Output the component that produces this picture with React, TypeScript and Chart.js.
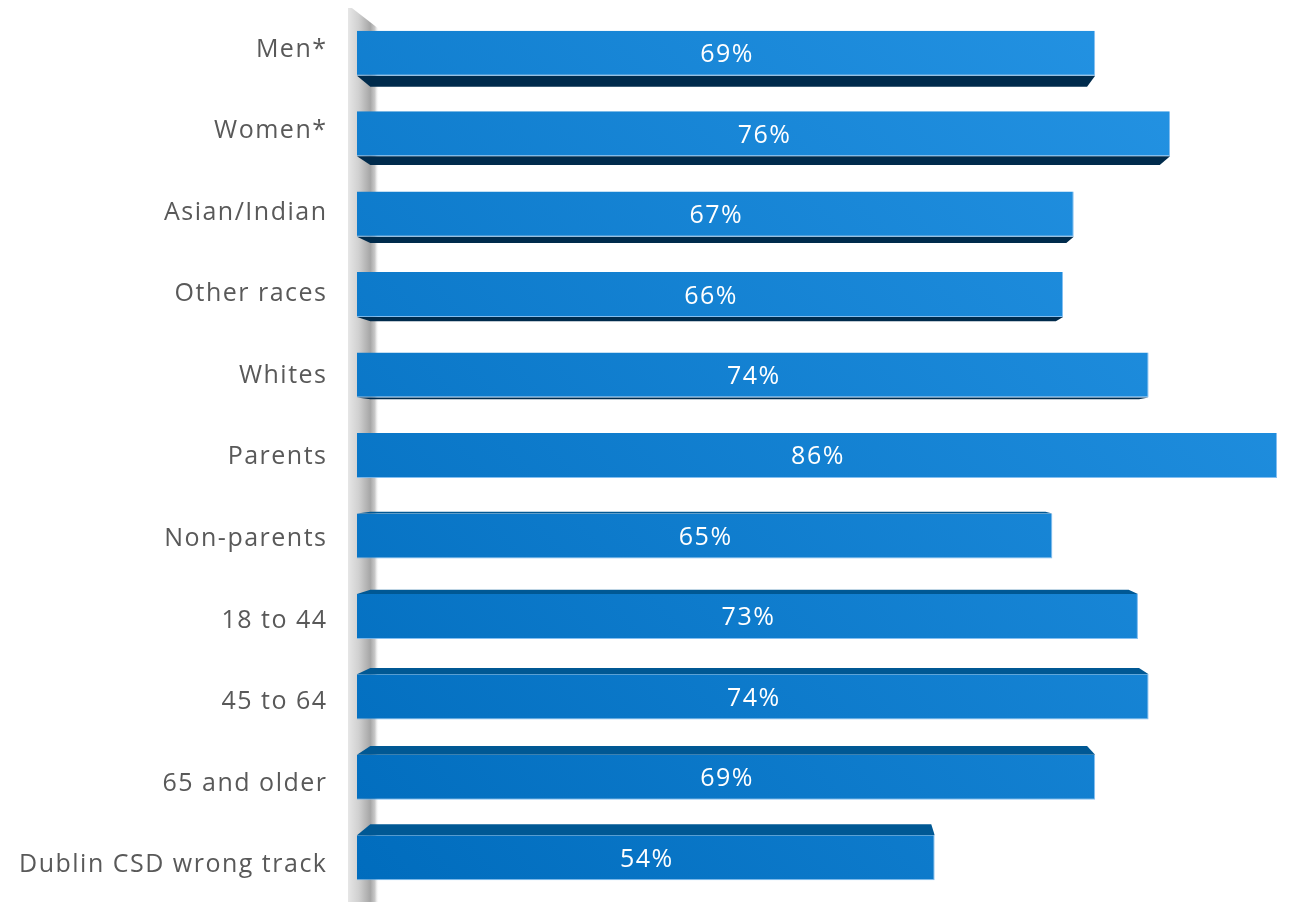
import React, { useEffect, useRef } from "react";
import { Chart, registerables } from "chart.js";

Chart.register(...registerables);

const categories = [
  "Men*",
  "Women*",
  "Asian/Indian",
  "Other races",
  "Whites",
  "Parents",
  "Non-parents",
  "18 to 44",
  "45 to 64",
  "65 and older",
  "Dublin CSD wrong track",
];
const values = [69, 76, 67, 66, 74, 86, 65, 73, 74, 69, 54];

const FONT = "'Open Sans', 'DejaVu Sans', sans-serif";
const FSIZE = 25;
const DEPTH = 0.971;
const CAP = 0.714 * FSIZE;

const bar3dPlugin = {
  id: "bar3d",
  beforeDatasetsDraw(chart: any) {
    const { ctx, chartArea } = chart;
    const vx = (chartArea.left + chartArea.right) / 2;
    const vy = (chartArea.top + chartArea.bottom) / 2;
    // gray wall
    ctx.save();
    const wl = chartArea.left - 9;
    const wr = chartArea.left + 22;
    const g = ctx.createLinearGradient(wl, 0, wr, 0);
    g.addColorStop(0, "#e6e6e6");
    g.addColorStop(0.35, "#d0d0d0");
    g.addColorStop(0.72, "#a6a6a6");
    g.addColorStop(0.87, "#cacaca");
    g.addColorStop(1, "rgba(255,255,255,0)");
    ctx.fillStyle = g;
    ctx.beginPath();
    ctx.moveTo(wl, chartArea.top - 8);
    ctx.lineTo(wr, chartArea.top + 16);
    ctx.lineTo(wr, chart.height + 20);
    ctx.lineTo(wl, chart.height + 20);
    ctx.closePath();
    ctx.fill();
    // depth faces
    const meta = chart.getDatasetMeta(0);
    meta.data.forEach((el: any) => {
      const p = el.getProps(["x", "y", "base", "height"], true);
      const x0 = p.base;
      const x1 = p.x;
      const yt = p.y - p.height / 2;
      const yb = p.y + p.height / 2;
      const bx = (x: number) => vx + (x - vx) * DEPTH;
      const by = (y: number) => vy + (y - vy) * DEPTH;
      ctx.beginPath();
      if (p.y < vy - 2) {
        ctx.moveTo(x0, yb);
        ctx.lineTo(x1, yb);
        ctx.lineTo(bx(x1), by(yb));
        ctx.lineTo(bx(x0), by(yb));
        ctx.fillStyle = "#002b4c";
      } else if (p.y > vy + 2) {
        ctx.moveTo(x0, yt);
        ctx.lineTo(x1, yt);
        ctx.lineTo(bx(x1), by(yt));
        ctx.lineTo(bx(x0), by(yt));
        ctx.fillStyle = "#005894";
      } else {
        return;
      }
      ctx.closePath();
      ctx.fill();
    });
    ctx.restore();
  },
  afterDatasetsDraw(chart: any) {
    const { ctx, chartArea } = chart;
    const vy = (chartArea.top + chartArea.bottom) / 2;
    const meta = chart.getDatasetMeta(0);
    ctx.save();
    ctx.font = `${FSIZE}px ${FONT}`;
    (ctx as any).letterSpacing = "1.5px";
    ctx.textBaseline = "alphabetic";
    meta.data.forEach((el: any, i: number) => {
      const p = el.getProps(["x", "y", "base"], true);
      // value label
      ctx.fillStyle = "#ffffff";
      ctx.textAlign = "center";
      ctx.fillText(values[i] + "%", (p.x + p.base) / 2 + 1, p.y + CAP / 2);
      // category label
      ctx.fillStyle = "#595959";
      ctx.textAlign = "right";
      const ly = vy + (p.y - vy) * 1.014;
      ctx.fillText(categories[i], chartArea.left - 29.5, ly + CAP / 2);
    });
    ctx.restore();
  },
};

export default function App() {
  const ref = useRef<HTMLCanvasElement>(null);
  useEffect(() => {
    if (!ref.current) return;
    const chart = new Chart(ref.current, {
      type: "bar",
      data: {
        labels: categories,
        datasets: [
          {
            data: values,
            backgroundColor: (c: any) => {
              const ca = c.chart.chartArea;
              if (!ca) return "#0a78cc";
              const gr = c.chart.ctx.createLinearGradient(ca.left, ca.bottom, ca.right, ca.top);
              gr.addColorStop(0, "#006cbd");
              gr.addColorStop(1, "#2796e6");
              return gr;
            },
            borderColor: "rgba(110,180,238,0.85)",
            borderWidth: { top: 0, left: 0, right: 1, bottom: 1 },
            borderSkipped: false,
            categoryPercentage: 1,
            barPercentage: 0.56,
          },
        ],
      },
      options: {
        indexAxis: "y",
        animation: false,
        responsive: true,
        maintainAspectRatio: false,
        layout: { padding: { top: 5, bottom: 4, right: 6, left: 0 } },
        plugins: { legend: { display: false }, tooltip: { enabled: false } },
        scales: {
          x: { display: false, min: 0, max: 86 },
          y: {
            afterFit: (s: any) => {
              s.width = 349;
              s.paddingTop = 0;
              s.paddingBottom = 0;
            },
            grid: { display: false, drawTicks: false },
            border: { display: false },
            ticks: { display: false },
          },
        },
      },
      plugins: [bar3dPlugin],
    });
    return () => chart.destroy();
  }, []);
  return (
    <div style={{ width: "100%", height: 894, position: "relative" }}>
      <canvas ref={ref} />
    </div>
  );
}
